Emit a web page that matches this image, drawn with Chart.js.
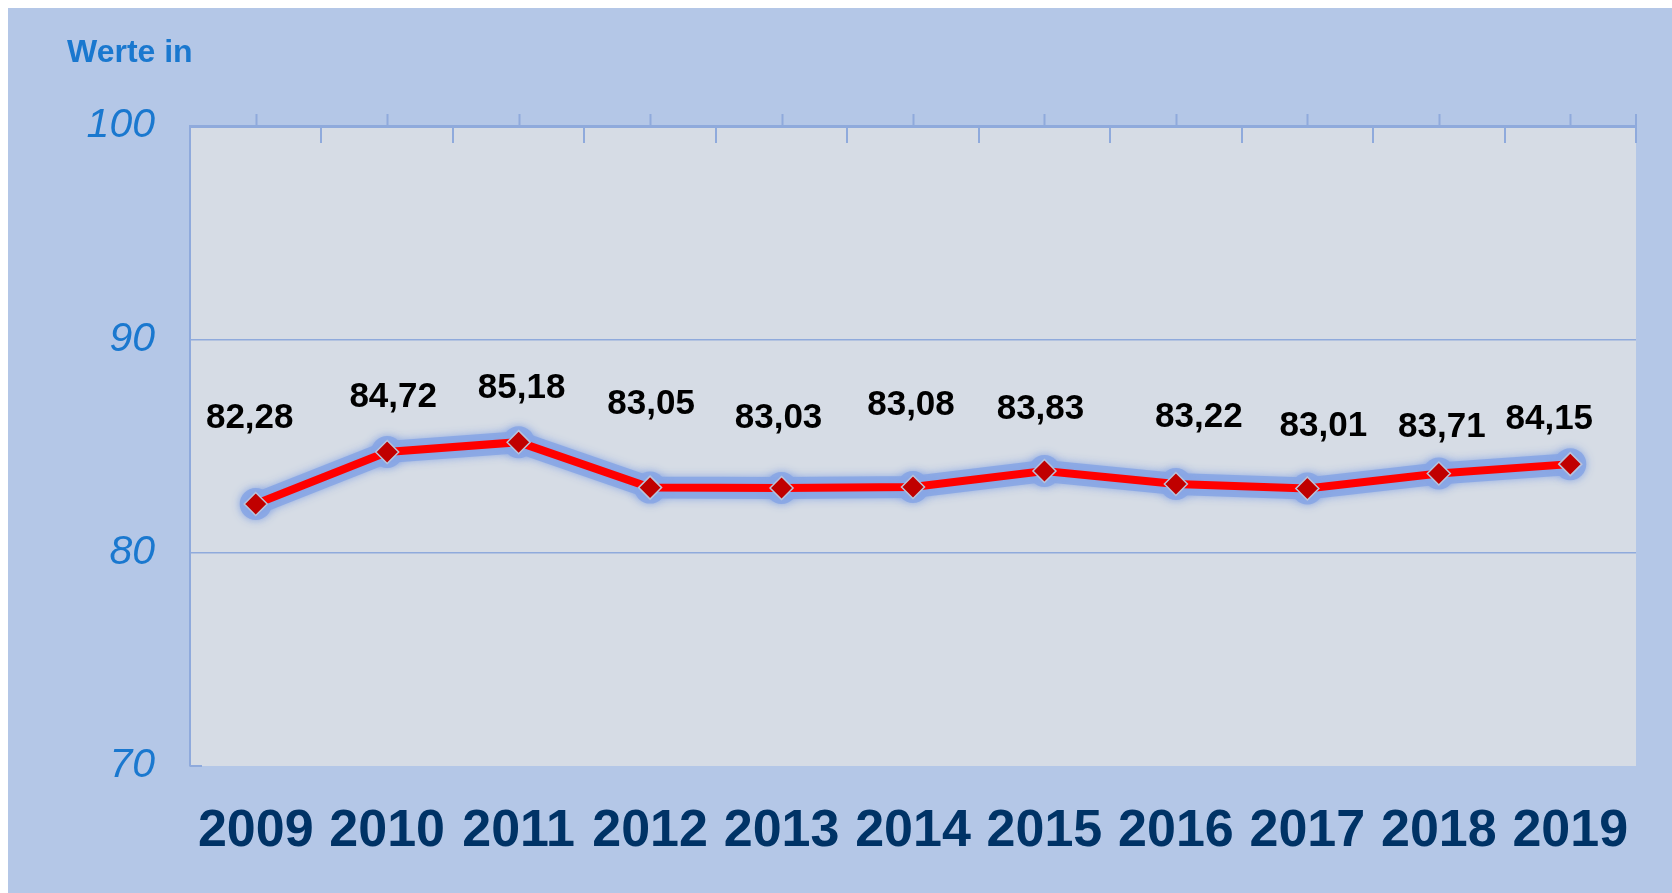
<!DOCTYPE html>
<html><head><meta charset="utf-8">
<script src="https://cdn.jsdelivr.net/npm/chart.js@4.4.0/dist/chart.umd.min.js"></script>
<style>html,body{margin:0;padding:0;background:#fff;overflow:hidden}
#wrap{width:1672px;height:893px;position:relative}</style>
</head><body><div id="wrap"><canvas id="c" width="1672" height="893"></canvas></div>
<script>
const years = ['2009','2010','2011','2012','2013','2014','2015','2016','2017','2018','2019'];
const values = [82.28, 84.72, 85.18, 83.05, 83.03, 83.08, 83.83, 83.22, 83.01, 83.71, 84.15];
const yTicks = [70, 80, 90, 100];
const valueLabels = ['82,28','84,72','85,18','83,05','83,03','83,08','83,83','83,22','83,01','83,71','84,15'];
const axisTitle = 'Werte in';
// label placement relative to each marker (dx, dy in px)
const labelOffsets = [[-6,-86],[6,-55],[3,-54],[1,-83],[-3,-70],[-2,-82],[-4,-62],[23,-67],[16,-62],[3,-46],[-21,-45]];

const FONT = '"Liberation Sans", Arial, sans-serif';
const AXIS_BLUE = '#8faadc';
const GLOW = 'rgba(136,166,228,0.9)';

const decor = {
  id: 'decor',
  beforeDraw(chart) {
    const {ctx, width, height, chartArea: a} = chart;
    ctx.save();
    ctx.fillStyle = '#ffffff';
    ctx.fillRect(0, 0, width, height);
    ctx.fillStyle = '#b4c7e7';
    ctx.fillRect(8, 8, width - 8, height - 8);
    ctx.fillStyle = '#d6dce5';
    ctx.fillRect(a.left, a.top, a.right - a.left, a.bottom - a.top);
    ctx.restore();
  },
  beforeDatasetsDraw(chart) {
    const {ctx, chartArea: a} = chart;
    const xs = chart.scales.x;
    ctx.save();
    ctx.strokeStyle = AXIS_BLUE;
    ctx.lineWidth = 2;
    ctx.beginPath();
    for (let i = 0; i < years.length; i++) {
      const x = Math.round(xs.getPixelForValue(i)) + 0.5;
      ctx.moveTo(x, a.top - 12); ctx.lineTo(x, a.top);
      const b = Math.round(xs.getPixelForValue(i + 0.5));
      ctx.moveTo(b, a.top); ctx.lineTo(b, a.top + 17);
    }
    const r = Math.round(xs.getPixelForValue(years.length - 0.5));
    ctx.moveTo(r, a.top - 12); ctx.lineTo(r, a.top);
    ctx.moveTo(a.left, a.bottom); ctx.lineTo(a.left + 12, a.bottom);
    ctx.stroke();
    ctx.restore();
  },
  beforeDatasetDraw(chart, args) {
    if (args.index === 0) {
      const ctx = chart.ctx;
      ctx.save();
      ctx.shadowColor = 'rgba(136,166,228,1)';
      ctx.shadowBlur = 8;
    }
  },
  afterDatasetDraw(chart, args) {
    if (args.index === 0) chart.ctx.restore();
  },
  afterDatasetsDraw(chart) {
    const {ctx} = chart;
    const meta = chart.getDatasetMeta(1);
    ctx.save();
    ctx.font = 'bold 35px ' + FONT;
    ctx.fillStyle = '#000000';
    ctx.textAlign = 'center';
    ctx.textBaseline = 'middle';
    meta.data.forEach((p, i) => {
      const [dx, dy] = labelOffsets[i];
      ctx.fillText(valueLabels[i], p.x + dx, p.y + dy);
    });
    ctx.font = 'bold 32px ' + FONT;
    ctx.fillStyle = '#1a78cf';
    ctx.textAlign = 'left';
    ctx.fillText(axisTitle, 67, 53);
    ctx.restore();
  }
};

new Chart(document.getElementById('c'), {
  type: 'line',
  data: {
    labels: years,
    datasets: [
      {
        data: values,
        borderColor: GLOW,
        borderWidth: 22,
        borderJoinStyle: 'round',
        borderCapStyle: 'round',
        pointStyle: 'circle',
        pointRadius: 16,
        pointBorderWidth: 0,
        pointBackgroundColor: GLOW,
        tension: 0,
        order: 1,
        clip: false
      },
      {
        data: values,
        borderColor: '#ff0000',
        borderWidth: 8,
        pointStyle: 'rectRot',
        pointRadius: 11.5,
        pointBackgroundColor: '#c00000',
        pointBorderColor: '#b8c4dc',
        pointBorderWidth: 1.5,
        tension: 0,
        order: 0,
        clip: false
      }
    ]
  },
  options: {
    responsive: false,
    animation: false,
    devicePixelRatio: 1,
    layout: {padding: {left: 0, top: 126, right: 36, bottom: 0}},
    plugins: {legend: {display: false}, tooltip: {enabled: false}, title: {display: false}},
    scales: {
      x: {
        type: 'category',
        offset: true,
        grid: {display: false},
        border: {display: false},
        ticks: {
          font: {family: FONT, size: 52, weight: 'bold'},
          color: '#003366',
          padding: 26,
          maxRotation: 0,
          autoSkip: false
        },
        afterFit(s) { s.height = 127; }
      },
      y: {
        min: 70,
        max: 100,
        afterBuildTicks(s) { s.ticks = yTicks.map(v => ({value: v})); },
        grid: {
          drawTicks: false,
          color: c => (c.tick && c.tick.value === 70) ? 'rgba(0,0,0,0)' : AXIS_BLUE,
          lineWidth: c => (c.tick && c.tick.value === 100) ? 3 : 1.5
        },
        border: {display: true, color: AXIS_BLUE, width: 2},
        ticks: {
          font: {family: FONT, size: 41, style: 'italic'},
          color: '#1a78cf',
          padding: 35
        },
        afterFit(s) { s.width = 190; }
      }
    }
  },
  plugins: [decor]
});
</script></body></html>
